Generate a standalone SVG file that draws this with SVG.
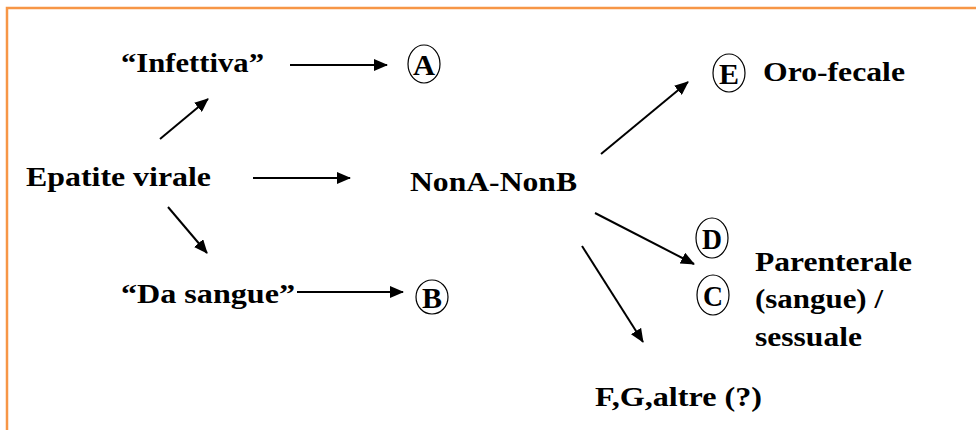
<svg xmlns="http://www.w3.org/2000/svg" width="976" height="430" viewBox="0 0 976 430">
  <style>
    .c { fill: none; stroke: #000; stroke-width: 1.2; }
    .e { stroke: #000; stroke-width: 2; fill: none; marker-end: url(#ah); }
  </style>
  <defs>
    <marker id="ah" viewBox="0 0 14 12" refX="13" refY="6" markerWidth="14" markerHeight="12" markerUnits="userSpaceOnUse" orient="auto">
      <path d="M0,0 L14,6 L0,12 Z" fill="#000"/>
    </marker>
  </defs>
  <rect width="976" height="430" fill="#fff"/>
  <path d="M976 8 H7 V430" fill="none" stroke="#F79646" stroke-width="2.5"/>

  <g id="connectors">
    <line class="e" x1="290" y1="65" x2="387" y2="65"/>
    <line class="e" x1="160" y1="139" x2="208" y2="99"/>
    <line class="e" x1="253" y1="178" x2="350" y2="178"/>
    <line class="e" x1="168" y1="207" x2="207" y2="253"/>
    <line class="e" x1="297" y1="292" x2="403" y2="292"/>
    <line class="e" x1="601" y1="154" x2="688" y2="82"/>
    <line class="e" x1="595" y1="213" x2="694" y2="264"/>
    <line class="e" x1="582" y1="246" x2="643" y2="342"/>
  </g>

  <g font-family="Liberation Serif, DejaVu Serif, serif" font-weight="bold" font-size="28" fill="#000">
    <g id="epatite"><text x="26" y="186" textLength="185" lengthAdjust="spacingAndGlyphs">Epatite virale</text></g>
    <g id="infettiva"><text x="121" y="72" textLength="143" lengthAdjust="spacingAndGlyphs">“Infettiva”</text></g>
    <g id="dasangue"><text x="121" y="303" textLength="174" lengthAdjust="spacingAndGlyphs">“Da sangue”</text></g>
    <g id="nonanonb"><text x="410" y="191" textLength="167" lengthAdjust="spacingAndGlyphs">NonA-NonB</text></g>
    <g id="orofecale"><text x="763" y="81" textLength="142" lengthAdjust="spacingAndGlyphs">Oro-fecale</text></g>
    <g id="parenterale">
      <text x="755" y="271" textLength="157" lengthAdjust="spacingAndGlyphs">Parenterale</text>
      <text x="755" y="308" textLength="128" lengthAdjust="spacingAndGlyphs">(sangue) /</text>
      <text x="755" y="346" textLength="107" lengthAdjust="spacingAndGlyphs">sessuale</text>
    </g>
    <g id="fgaltre"><text x="595" y="406" textLength="167" lengthAdjust="spacingAndGlyphs">F,G,altre (?)</text></g>
  </g>

  <g font-family="Liberation Serif, DejaVu Serif, serif" font-weight="bold" font-size="30" fill="#000" text-anchor="middle">
    <g id="A"><ellipse class="c" cx="424" cy="64" rx="16" ry="19"/><text x="424" y="75" textLength="22" lengthAdjust="spacingAndGlyphs">A</text></g>
    <g id="B"><ellipse class="c" cx="432" cy="297" rx="16" ry="17"/><text x="432" y="308" textLength="20" lengthAdjust="spacingAndGlyphs">B</text></g>
    <g id="E"><ellipse class="c" cx="729" cy="73" rx="16" ry="19"/><text x="729" y="84" textLength="20" lengthAdjust="spacingAndGlyphs">E</text></g>
    <g id="D"><ellipse class="c" cx="712" cy="238" rx="16" ry="20"/><text x="712" y="249" textLength="20" lengthAdjust="spacingAndGlyphs">D</text></g>
    <g id="C"><ellipse class="c" cx="713" cy="295" rx="16" ry="20"/><text x="713" y="306" textLength="20" lengthAdjust="spacingAndGlyphs">C</text></g>
  </g>
</svg>
